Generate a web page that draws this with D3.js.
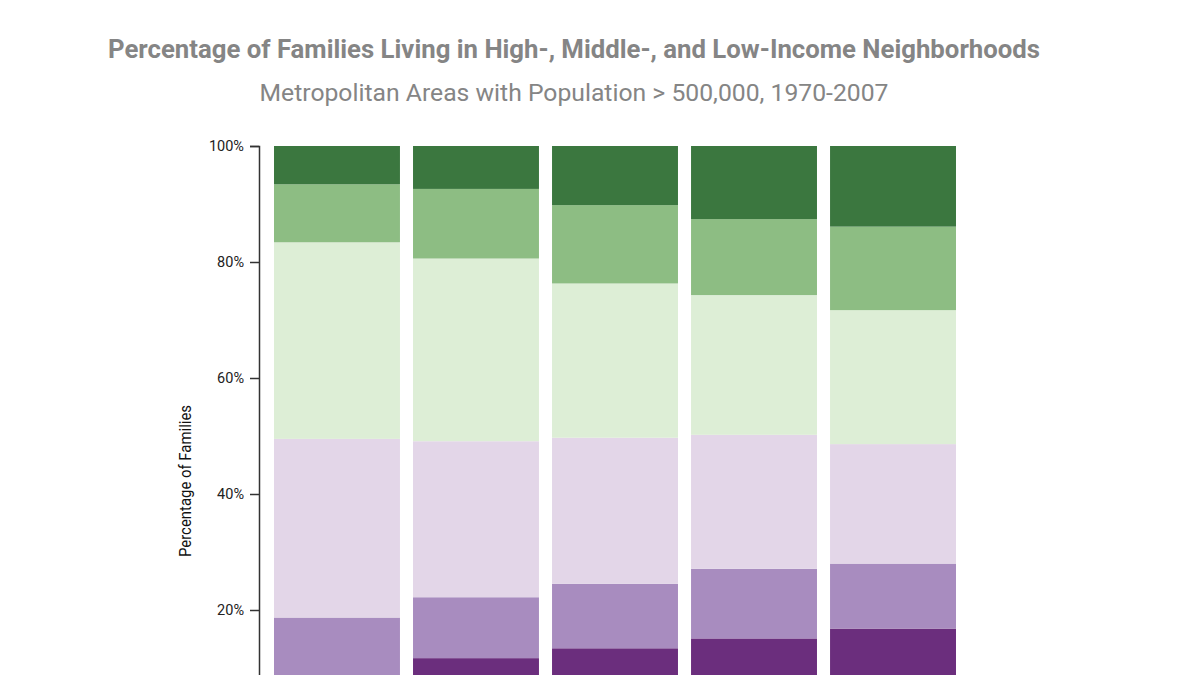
<!DOCTYPE html>
<html>
<head>
<meta charset="utf-8">
<script src="https://cdn.jsdelivr.net/npm/d3@7"></script>
<style>
    html, body { margin: 0; padding: 0; background: #fff; overflow: hidden; }
    #chart { width: 1200px; height: 675px; }
    .axis text { font-family: Roboto, sans-serif; font-size: 14.5px; fill: #222; }
    .axis path, .axis line { stroke: #333; stroke-width: 1.5px; }
</style>
</head>
<body>
<div id="chart"></div>
<script>
// years (bars), left to right
const years = ["1970", "1980", "1990", "2000", "2007"];

// neighborhood income groups, stacked bottom to top
const groups = ["Poor", "Low Income", "Low-Middle Income", "High-Middle Income", "High Income", "Affluent"];

// percent of families per group, one value per year
const poor = [8.4, 11.7, 13.4, 15.1, 16.8];
const lowIncome = [10.3, 10.5, 11.1, 12.0, 11.2];
const lowMiddle = [30.8, 26.9, 25.2, 23.1, 20.6];
const highMiddle = [33.9, 31.5, 26.6, 24.1, 23.1];
const highIncome = [10.0, 12.0, 13.5, 13.1, 14.4];
const affluent = [6.6, 7.4, 10.2, 12.6, 13.9];

// the chart is cut at the bottom of the window, so 0% is not labelled
const yTicks = [0.2, 0.4, 0.6, 0.8, 1];

const colors = ["#6b2e7d", "#a88cbf", "#e3d6e8", "#ddeed6", "#8dbd83", "#3b773f"];

const seriesValues = [poor, lowIncome, lowMiddle, highMiddle, highIncome, affluent];

let rows = years.map((yr, i) => {
    let row = { year: yr };
    groups.forEach((g, j) => row[g] = seriesValues[j][i] / 100);
    return row;
});

let margin = { top: 146, left: 259 };
let width = 712, height = 580;

let svg = d3.select("#chart").append("svg")
    .attr("width", 1200)
    .attr("height", 675)
    .style("display", "block");

// titles
svg.append("text")
    .attr("x", 574)
    .attr("y", 58)
    .attr("text-anchor", "middle")
    .attr("textLength", 932)
    .attr("lengthAdjust", "spacingAndGlyphs")
    .style("font-family", "Roboto, sans-serif")
    .style("font-weight", "bold")
    .style("font-size", "26px")
    .style("fill", "#858585")
    .text("Percentage of Families Living in High-, Middle-, and Low-Income Neighborhoods");

svg.append("text")
    .attr("x", 574)
    .attr("y", 101)
    .attr("text-anchor", "middle")
    .attr("textLength", 629)
    .attr("lengthAdjust", "spacingAndGlyphs")
    .style("font-family", "Roboto, sans-serif")
    .style("font-size", "23px")
    .style("fill", "#858585")
    .text("Metropolitan Areas with Population > 500,000, 1970-2007");

let g = svg.append("g")
    .attr("transform", `translate(${margin.left},${margin.top})`);

let x = d3.scaleBand()
    .domain(years)
    .range([0, width])
    .paddingInner(0.094)
    .paddingOuter(0.108);

let y = d3.scaleLinear()
    .domain([0, 1])
    .range([height, 0]);

let stacked = d3.stack().keys(groups)(rows);

g.selectAll(".layer")
    .data(stacked)
    .enter().append("g")
    .attr("class", "layer")
    .attr("fill", (d, i) => colors[i])
    .selectAll("rect")
    .data(d => d)
    .enter().append("rect")
    .attr("x", d => x(d.data.year))
    .attr("width", x.bandwidth())
    .attr("y", d => y(d[1]))
    .attr("height", d => y(d[0]) - y(d[1]));

let yAxis = d3.axisLeft(y)
    .tickValues(yTicks)
    .tickFormat(d3.format(".0%"))
    .tickSize(9)
    .tickPadding(6);

g.append("g")
    .attr("class", "y-axis axis")
    .call(yAxis);

// axis title
g.append("text")
    .attr("transform", "rotate(-90)")
    .attr("x", -335)
    .attr("y", -68)
    .attr("text-anchor", "middle")
    .attr("textLength", 152)
    .attr("lengthAdjust", "spacingAndGlyphs")
    .style("font-family", "Roboto, sans-serif")
    .style("font-size", "17px")
    .style("fill", "#111")
    .text("Percentage of Families");
</script>
</body>
</html>
